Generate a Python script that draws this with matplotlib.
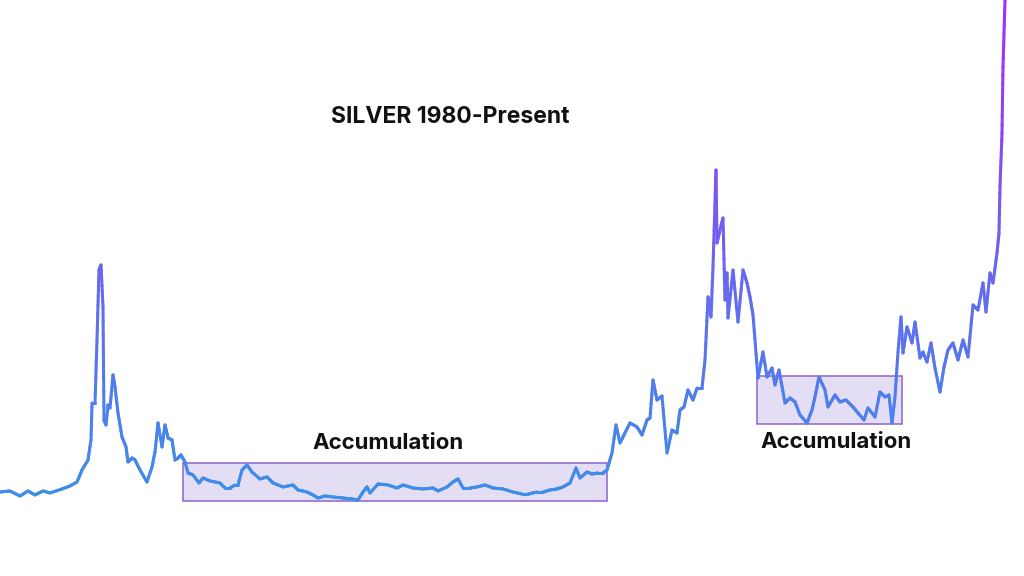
import matplotlib
matplotlib.use("Agg")
import matplotlib.pyplot as plt
import numpy as np
from matplotlib.collections import LineCollection
from matplotlib.colors import LinearSegmentedColormap, Normalize
from matplotlib.patches import Rectangle

plt.rcParams['font.family'] = ['Inter', 'DejaVu Sans']

# Silver price (approximate, USD/oz)
years = [
    1975.00, 1975.50, 1976.00, 1976.40, 1976.75, 1977.15, 1977.50, 1978.10, 1978.50, 1978.85,
    1979.10, 1979.40, 1979.55, 1979.60, 1979.75, 1979.85, 1979.95, 1980.05, 1980.15, 1980.20,
    1980.30, 1980.40, 1980.50, 1980.65, 1980.75, 1980.90, 1981.10, 1981.30, 1981.40, 1981.60,
    1981.75, 1982.00, 1982.35, 1982.60, 1982.75, 1982.90, 1983.10, 1983.25, 1983.40, 1983.60,
    1983.75, 1983.90, 1984.05, 1984.25, 1984.40, 1984.65, 1984.95,
    1985.15, 1985.50, 1986.00, 1986.25, 1986.50, 1986.75, 1986.90, 1987.10, 1987.35, 1987.60,
    1988.00, 1988.35, 1988.65, 1989.15, 1989.65, 1989.90, 1990.35, 1990.65, 1990.90, 1991.25,
    1991.65, 1992.15, 1992.60, 1992.90, 1993.15, 1993.35, 1993.50, 1993.90, 1994.40, 1994.85,
    1995.15, 1995.65, 1996.15, 1996.65, 1996.90, 1997.35, 1997.65, 1997.90, 1998.15, 1998.50,
    1998.85, 1999.25, 1999.65, 2000.15, 2000.65, 2001.10, 2001.40, 2001.85, 2002.15, 2002.50,
    2002.85, 2003.15, 2003.50, 2003.80, 2004.00, 2004.35, 2004.60, 2004.90, 2005.15, 2005.35,
    2005.60, 2005.80, 2006.00, 2006.25, 2006.50, 2006.85, 2007.10, 2007.35, 2007.50, 2007.65,
    2007.85, 2008.10, 2008.35, 2008.60, 2008.85, 2009.00, 2009.20, 2009.40, 2009.65, 2009.85,
    2010.10, 2010.25, 2010.40, 2010.55, 2010.65, 2010.80, 2010.85, 2011.00, 2011.15, 2011.25,
    2011.35, 2011.40, 2011.65, 2011.90, 2012.15, 2012.35, 2012.50, 2012.65, 2012.90,
    2013.15, 2013.35, 2013.60, 2013.75, 2013.95, 2014.25, 2014.50, 2014.75, 2015.00, 2015.35,
    2015.60, 2015.75, 2015.95, 2016.25, 2016.40, 2016.75, 2017.00, 2017.30, 2017.65, 2017.90,
    2018.20, 2018.40, 2018.75, 2019.00, 2019.25, 2019.45, 2019.60, 2019.75, 2019.90, 2020.05,
    2020.15, 2020.35, 2020.60, 2020.75, 2021.00, 2021.15, 2021.35, 2021.55, 2021.75, 2022.00,
    2022.20, 2022.40, 2022.65, 2022.90, 2023.15, 2023.40, 2023.65, 2023.90, 2024.15, 2024.30,
    2024.50, 2024.65, 2024.85, 2024.95, 2025.00, 2025.10, 2025.15, 2025.25, 2025.30,
]
prices = [
    4.75, 4.88, 4.25, 4.88, 4.38, 4.88, 4.63, 5.13, 5.50, 6.00,
    7.50, 8.75, 11.25, 15.88, 15.88, 23.75, 32.50, 33.13, 27.88, 13.75,
    13.13, 15.63, 15.25, 19.38, 17.88, 14.63, 11.63, 10.38, 8.50, 9.00,
    8.75, 7.50, 6.00, 7.88, 9.75, 13.38, 10.38, 13.13, 11.50, 11.25,
    8.75, 9.00, 9.38, 8.50, 7.13, 6.88, 5.88,
    6.50, 6.13, 5.88, 5.25, 5.25, 5.63, 5.63, 7.50, 8.13, 7.25,
    6.38, 6.63, 5.88, 5.38, 5.63, 5.00, 4.75, 4.38, 4.00, 4.25,
    4.13, 4.00, 3.88, 3.75, 4.75, 5.38, 4.63, 5.75, 5.63, 5.25,
    5.63, 5.25, 5.13, 5.25, 4.88, 5.38, 6.00, 6.38, 5.25, 5.25,
    5.38, 5.63, 5.25, 5.13, 4.75, 4.50, 4.50, 4.75, 4.75, 5.00,
    5.13, 5.38, 5.88, 7.75, 6.50, 7.25, 7.00, 7.13, 7.13, 7.50,
    9.63, 13.13, 10.88, 12.13, 13.38, 12.88, 11.88, 13.75, 14.00, 18.75,
    16.25, 16.75, 9.63, 12.50, 12.13, 15.00, 15.38, 17.50, 16.25, 17.75,
    17.75, 21.25, 29.13, 26.63, 32.88, 45.00, 35.88, 37.50, 39.00, 28.75,
    32.13, 26.50, 32.50, 26.00, 32.50, 30.88, 29.13, 26.88, 19.00,
    22.25, 19.13, 20.25, 18.13, 20.00, 15.88, 16.50, 16.00, 14.38, 13.38,
    15.00, 16.63, 19.13, 17.50, 15.38, 16.88, 16.00, 16.25, 15.38, 14.63,
    13.75, 15.25, 14.13, 17.25, 16.63, 16.88, 13.38, 16.63, 22.25, 26.63,
    22.13, 25.38, 23.38, 26.00, 21.50, 22.25, 21.00, 23.38, 20.25, 17.25,
    20.38, 22.50, 23.38, 21.25, 23.75, 21.63, 28.13, 27.50, 30.88, 27.25,
    32.13, 30.88, 34.63, 37.13, 42.88, 49.63, 57.88, 66.25, 68.13,
]

# accumulation zones: (start year, end year, low, high)
zone_start = [1984.15, 2012.85]
zone_end = [2005.35, 2020.10]
zone_low = [3.63, 13.25]
zone_high = [8.38, 19.25]
zone_label_x = [1994.40, 2016.80]
zone_label_y = [10.88, 11.0]

title = "SILVER 1980-Present"


def gradient_segments(x, y, steps=8):
    """Split each segment into short pieces so colour can follow the price."""
    xs, ys = [x[0]], [y[0]]
    for i in range(1, len(x)):
        t = np.linspace(0, 1, steps + 1)[1:]
        xs.extend(x[i-1] + t*(x[i] - x[i-1]))
        ys.extend(y[i-1] + t*(y[i] - y[i-1]))
    pts = np.column_stack([xs, ys]).reshape(-1, 1, 2)
    return np.concatenate([pts[:-1], pts[1:]], axis=1), np.array(ys)


def main():
    fig = plt.figure(figsize=(10.24, 5.76), dpi=100)
    ax = fig.add_axes([0, 0, 1, 1])
    ax.set_xlim(1975, 2026.2)
    ax.set_ylim(-5.75, 66.25)
    ax.axis("off")

    for x0, x1, lo, hi in zip(zone_start, zone_end, zone_low, zone_high):
        ax.add_patch(Rectangle((x0, lo), x1 - x0, hi - lo, facecolor="#e4def4",
                               edgecolor="#8c63cf", linewidth=1.1, zorder=1))

    cmap = LinearSegmentedColormap.from_list("silver", ["#3d8fea", "#6a66f0", "#a42ff6"])
    segs, ys = gradient_segments(np.array(years), np.array(prices))
    mids = (ys[:-1] + ys[1:]) / 2
    lc = LineCollection(segs, cmap=cmap, norm=Normalize(4, 62), linewidth=2.2,
                        capstyle="round", joinstyle="round", zorder=2)
    lc.set_array(mids)
    ax.add_collection(lc)

    for lx, ly in zip(zone_label_x, zone_label_y):
        ax.text(lx, ly, "Accumulation", ha="center", va="center",
                fontsize=16, fontweight="bold", color="#111111", zorder=3)

    ax.text(1997.5, 51.63, title, ha="center", va="center",
            fontsize=16.5, fontweight="bold", color="#111111")

    fig.savefig("out.png", dpi=100)


if __name__ == '__main__':
    main()
